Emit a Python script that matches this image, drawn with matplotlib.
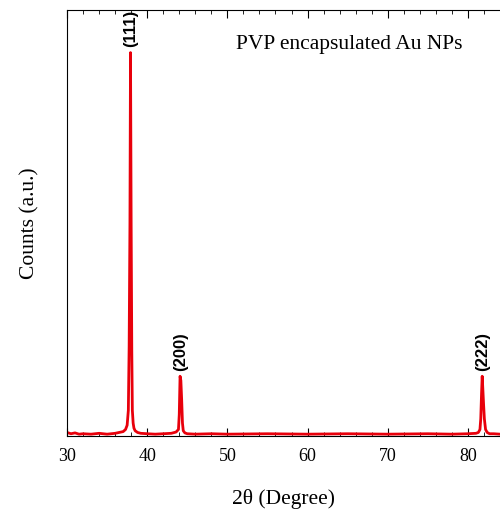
import matplotlib.pyplot as plt
from matplotlib.ticker import MultipleLocator

# XRD pattern (2theta in degree, counts in a.u.)
two_theta = [30.0, 30.5, 31.0, 31.5, 32.0, 33.0, 34.0, 35.0, 36.0, 36.5, 37.0,
             37.3, 37.5, 37.65, 37.75, 37.85, 37.92, 38.0, 38.08, 38.15, 38.25,
             38.35, 38.5, 38.8, 39.2, 40.0, 41.0, 42.0, 43.0, 43.6, 43.9, 44.0,
             44.1, 44.2, 44.3, 44.4, 44.5, 44.7, 45.0, 46.0, 48.0, 50.0, 55.0,
             60.0, 65.0, 70.0, 75.0, 78.0, 80.0, 81.0, 81.3, 81.5, 81.6, 81.7,
             81.78, 81.86, 81.95, 82.05, 82.2, 82.4, 82.7, 83.2, 84.0]
counts = [0.8, 0.5, 0.7, 0.4, 0.5, 0.4, 0.6, 0.4, 0.6, 0.8, 1.0,
          1.5, 2.5, 6.0, 21.0, 50.0, 90.0, 50.0, 20.0, 6.0, 3.0,
          1.8, 1.2, 0.8, 0.6, 0.5, 0.4, 0.5, 0.6, 0.9, 1.5, 5.0,
          14.0, 13.0, 8.5, 3.0, 1.2, 0.7, 0.5, 0.4, 0.5, 0.4, 0.5,
          0.4, 0.5, 0.4, 0.5, 0.4, 0.5, 0.6, 0.8, 1.5, 4.0, 10.0,
          14.0, 11.0, 7.5, 4.0, 1.5, 0.8, 0.5, 0.5, 0.4]

peak_pos = [37.96, 44.15, 81.78]
peak_top = [90.0, 14.0, 14.0]
peak_hkl = ['(111)', '(200)', '(222)']

serif = ['Liberation Serif', 'DejaVu Serif']

fig = plt.figure(figsize=(5.0, 5.14), dpi=100)
ax = fig.add_axes([0.134, 0.152, 0.866, 0.8285])

ax.plot(two_theta, counts, color='#e8000b', lw=2)

for x, y, lab in zip(peak_pos, peak_top, peak_hkl):
    ax.text(x, y + 1.2, lab, rotation=90, ha='center', va='bottom',
            fontsize=12, fontweight='bold', family='Liberation Sans', clip_on=False)

ax.text(0.651, 0.92, 'PVP encapsulated Au NPs', transform=ax.transAxes,
        ha='center', va='center', fontsize=15.5, family=serif)

ax.set_xlim(30, 84)
ax.set_ylim(0, 100)
ax.xaxis.set_major_locator(MultipleLocator(10))
ax.xaxis.set_minor_locator(MultipleLocator(2))
ax.tick_params(axis='x', which='both', direction='in', top=True, bottom=True)
ax.tick_params(axis='x', which='major', length=6, labelsize=13, pad=9)
ax.tick_params(axis='x', which='minor', length=3)
for lbl in ax.get_xticklabels():
    lbl.set_family(serif)
ax.set_yticks([])
ax.spines['right'].set_visible(False)

ax.set_xlabel('2θ (Degree)', fontsize=15.5, family=serif, labelpad=17)
ax.set_ylabel('Counts (a.u.)', fontsize=15.5, family=serif, labelpad=20)

fig.savefig('out.png', dpi=100)
